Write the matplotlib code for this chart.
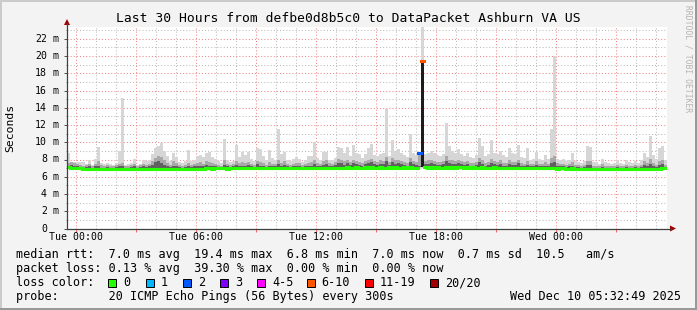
import numpy as np
import matplotlib
matplotlib.use("Agg")
import matplotlib.pyplot as plt
from matplotlib.patches import Rectangle, Polygon
from matplotlib.lines import Line2D
from matplotlib.transforms import blended_transform_factory

plt.rcParams['font.family'] = ['DejaVu Sans Mono']

# 200 samples of 9 min, hours relative to Tue 00:00
t_end = 29.547
t_start = t_end - 30
step = 0.15

# median rtt (ms) per sample
median = [
    7.1, 7.05, 7.0, 7.0, 7.0, 6.95, 6.95, 6.9, 6.9, 6.95, 6.9, 6.9, 6.85, 6.85, 6.9, 6.85, 6.85, 6.9, 6.85, 6.85,
    6.85, 6.85, 6.85, 6.9, 6.85, 6.85, 6.9, 6.85, 6.9, 6.9, 6.95, 6.95, 6.9, 6.9, 6.9, 6.85, 6.9, 6.9, 6.85, 6.9,
    6.9, 6.9, 6.95, 6.9, 6.95, 6.95, 7.0, 7.0, 6.95, 7.0, 7.0, 7.0, 7.0, 6.95, 7.0, 7.0, 7.0, 7.05, 7.0, 7.0,
    7.0, 7.0, 7.0, 7.05, 7.0, 7.0, 7.0, 7.05, 7.0, 7.0, 7.05, 7.05, 7.0, 7.0, 7.05, 7.05, 7.0, 7.05, 7.0, 7.0,
    7.05, 7.0, 7.05, 7.0, 7.0, 7.05, 7.05, 7.0, 7.05, 7.05, 7.0, 7.05, 7.05, 7.1, 7.05, 7.05, 7.1, 7.05, 7.05, 7.1,
    7.05, 7.1, 7.05, 7.05, 7.1, 7.05, 7.05, 7.1, 7.05, 7.1, 7.05, 7.05, 7.1, 7.05, 7.1, 7.05, 7.05, 8.8, 19.4, 7.1,
    7.05, 7.1, 7.05, 7.1, 7.05, 7.05, 7.1, 7.05, 7.1, 7.05, 7.1, 7.1, 7.05, 7.1, 7.05, 7.1, 7.05, 7.05, 7.1, 7.05,
    7.05, 7.05, 7.1, 7.05, 7.05, 7.05, 7.0, 7.05, 7.0, 7.05, 7.0, 7.0, 7.05, 7.0, 7.0, 7.0, 7.0, 7.05, 7.0, 7.0,
    7.0, 7.0, 7.0, 6.95, 7.0, 7.0, 6.95, 6.95, 7.0, 6.95, 6.95, 6.95, 6.9, 6.9, 6.95, 6.9, 6.9, 6.9, 6.85, 6.9,
    6.85, 6.85, 6.9, 6.85, 6.85, 6.85, 6.9, 6.85, 6.85, 6.9, 6.85, 6.9, 6.9, 6.9, 6.95, 6.9, 6.9, 6.95, 7.0, 7.0,
]

# loss bucket per sample (0 = no loss)
loss = [0] * 200
loss[117] = 2
loss[118] = 5

# samples whose fastest pings sit well below the median
spike_idx = [117, 118]
spike_low = [7.0, 7.0]

# smoke: highest ping (light), dense band (mid), core (dark)
smoke_top = [
    8.7, 7.7, 7.7, 7.7, 7.7, 7.7, 7.5, 7.9, 7.4, 8.1, 9.4, 7.6, 7.5, 7.6, 7.5, 7.4, 7.6, 9.0, 15.1, 7.4,
    7.5, 7.6, 8.0, 7.4, 7.5, 7.9, 7.8, 7.9, 8.6, 9.3, 9.6, 9.9, 9.0, 8.4, 7.8, 8.7, 8.3, 7.7, 7.6, 7.8,
    9.1, 7.8, 7.9, 8.4, 8.5, 8.3, 8.7, 8.9, 8.3, 8.1, 7.8, 7.6, 10.4, 8.0, 7.7, 7.8, 9.7, 8.3, 8.9, 8.5,
    8.9, 8.1, 7.8, 9.3, 9.2, 8.4, 7.9, 9.1, 8.2, 8.0, 11.5, 8.6, 8.9, 7.9, 7.8, 8.0, 8.3, 8.1, 7.7, 7.9,
    8.4, 8.4, 10.0, 8.2, 7.9, 8.9, 8.9, 8.0, 7.9, 8.2, 9.5, 9.3, 8.7, 9.4, 8.4, 9.7, 8.8, 8.6, 8.2, 8.6,
    9.3, 9.8, 8.5, 8.4, 8.6, 8.7, 13.8, 8.4, 10.3, 9.0, 9.2, 8.8, 8.5, 8.3, 11.0, 8.7, 8.5, 8.8, 25.0, 8.6,
    8.8, 9.0, 8.7, 8.5, 8.4, 8.6, 12.2, 9.6, 9.0, 8.8, 9.2, 8.6, 8.4, 8.7, 8.3, 8.2, 8.5, 10.5, 9.6, 8.4,
    8.6, 10.3, 8.8, 8.6, 9.0, 8.5, 8.3, 9.3, 8.7, 8.6, 9.7, 8.3, 8.2, 9.3, 8.0, 8.1, 8.9, 8.1, 8.0, 8.5,
    8.1, 11.5, 20.0, 8.1, 7.9, 8.1, 7.8, 8.0, 8.7, 7.8, 7.7, 7.6, 7.8, 9.6, 9.4, 7.7, 7.7, 7.5, 8.0, 7.7,
    7.6, 7.5, 7.6, 7.9, 7.6, 7.5, 7.9, 7.7, 7.6, 7.8, 7.6, 7.9, 8.8, 8.3, 10.7, 8.5, 8.1, 9.3, 9.6, 7.9,
]

smoke_mid = [
    7.6, 7.7, 7.6, 7.5, 7.4, 7.3, 7.4, 7.5, 7.3, 7.5, 7.8, 7.4, 7.3, 7.4, 7.3, 7.3, 7.4, 7.5, 7.6, 7.3,
    7.3, 7.4, 7.5, 7.3, 7.4, 7.5, 7.4, 7.5, 7.8, 8.2, 8.4, 8.3, 7.9, 7.6, 7.4, 7.8, 7.6, 7.4, 7.3, 7.4,
    7.6, 7.4, 7.5, 7.6, 7.7, 7.5, 7.8, 7.7, 7.6, 7.5, 7.4, 7.3, 7.9, 7.5, 7.4, 7.5, 7.8, 7.6, 7.7, 7.6,
    7.7, 7.5, 7.4, 7.8, 7.7, 7.6, 7.4, 7.7, 7.5, 7.5, 8.0, 7.6, 7.8, 7.5, 7.4, 7.5, 7.6, 7.6, 7.4, 7.5,
    7.6, 7.7, 8.0, 7.6, 7.5, 7.8, 7.9, 7.6, 7.5, 7.7, 8.1, 8.0, 7.8, 8.0, 7.7, 8.0, 7.8, 7.7, 7.6, 7.8,
    8.0, 8.1, 7.8, 7.7, 7.9, 7.8, 8.3, 7.7, 8.2, 7.9, 8.0, 7.8, 7.7, 7.6, 8.2, 7.8, 7.7, 8.8, 19.4, 7.8,
    7.9, 8.0, 7.8, 7.7, 7.7, 7.8, 8.4, 8.0, 7.9, 7.8, 8.0, 7.8, 7.7, 7.8, 7.6, 7.6, 7.7, 8.2, 7.9, 7.6,
    7.7, 8.1, 7.8, 7.7, 7.9, 7.6, 7.6, 7.9, 7.7, 7.7, 8.0, 7.6, 7.5, 7.8, 7.5, 7.5, 7.8, 7.5, 7.5, 7.7,
    7.5, 8.2, 8.4, 7.6, 7.5, 7.5, 7.4, 7.5, 7.7, 7.4, 7.4, 7.3, 7.4, 7.8, 7.8, 7.3, 7.3, 7.3, 7.5, 7.3,
    7.2, 7.2, 7.3, 7.4, 7.2, 7.2, 7.4, 7.3, 7.3, 7.4, 7.3, 7.4, 7.8, 7.6, 8.0, 7.6, 7.4, 7.8, 7.9, 7.4,
]

smoke_core = [
    7.3, 7.4, 7.3, 7.2, 7.1, 7.0, 7.1, 7.2, 7.0, 7.2, 7.3, 7.0, 7.0, 7.1, 7.0, 7.0, 7.1, 7.2, 7.2, 7.0,
    7.0, 7.1, 7.2, 7.0, 7.1, 7.2, 7.1, 7.2, 7.4, 7.7, 7.8, 7.6, 7.4, 7.2, 7.1, 7.3, 7.2, 7.1, 7.0, 7.1,
    7.3, 7.1, 7.2, 7.3, 7.3, 7.2, 7.4, 7.3, 7.3, 7.2, 7.1, 7.1, 7.4, 7.2, 7.1, 7.2, 7.4, 7.3, 7.3, 7.3,
    7.4, 7.2, 7.1, 7.5, 7.3, 7.3, 7.1, 7.3, 7.2, 7.2, 7.5, 7.3, 7.4, 7.2, 7.1, 7.2, 7.3, 7.3, 7.1, 7.2,
    7.3, 7.3, 7.5, 7.3, 7.2, 7.4, 7.5, 7.3, 7.2, 7.4, 7.6, 7.6, 7.4, 7.6, 7.4, 7.6, 7.5, 7.4, 7.3, 7.5,
    7.6, 7.7, 7.5, 7.4, 7.5, 7.5, 7.8, 7.4, 7.7, 7.5, 7.6, 7.5, 7.4, 7.3, 7.7, 7.5, 7.4, 7.3, 19.4, 7.5,
    7.5, 7.6, 7.5, 7.4, 7.4, 7.5, 7.8, 7.6, 7.5, 7.5, 7.6, 7.5, 7.4, 7.5, 7.3, 7.3, 7.4, 7.7, 7.5, 7.3,
    7.4, 7.6, 7.5, 7.4, 7.5, 7.3, 7.3, 7.5, 7.4, 7.4, 7.6, 7.3, 7.2, 7.4, 7.2, 7.2, 7.4, 7.2, 7.2, 7.3,
    7.2, 7.6, 7.7, 7.3, 7.2, 7.2, 7.1, 7.2, 7.3, 7.1, 7.1, 7.0, 7.1, 7.4, 7.4, 7.0, 7.0, 7.0, 7.1, 7.0,
    6.9, 6.9, 7.0, 7.1, 6.9, 6.9, 7.1, 7.0, 7.0, 7.1, 7.0, 7.1, 7.4, 7.2, 7.5, 7.2, 7.1, 7.4, 7.5, 7.1,
]

loss_labels = ['0', '1', '2', '3', '4-5', '6-10', '11-19', '20/20']
loss_colors = ['#26ff00', '#00b8ff', '#0059ff', '#7e00ff', '#ff00ff', '#ff5500', '#ff0000', '#a10000']

x_labels = ['Tue 00:00', 'Tue 06:00', 'Tue 12:00', 'Tue 18:00', 'Wed 00:00']
x_label_pos = [0, 6, 12, 18, 24]
y_ticks = [0, 2, 4, 6, 8, 10, 12, 14, 16, 18, 20, 22]

title = 'Last 30 Hours from defbe0d8b5c0 to DataPacket Ashburn VA US'
line_rtt = 'median rtt:  7.0 ms avg  19.4 ms max  6.8 ms min  7.0 ms now  0.7 ms sd  10.5   am/s'
line_loss = 'packet loss: 0.13 % avg  39.30 % max  0.00 % min  0.00 % now'
line_probe = 'probe:       20 ICMP Echo Pings (56 Bytes) every 300s'
stamp = 'Wed Dec 10 05:32:49 2025'

W, H = 697, 310


def px(x, y):
    return x / W, 1 - y / H


fig = plt.figure(figsize=(W / 100, H / 100), dpi=100, facecolor='#f3f3f3')

# frame shading
for (x0, y0, w, h, c) in [(0, 0, W, 2, '#cbcbcb'), (0, 0, 2, H, '#cbcbcb'),
                          (0, H - 2, W, 2, '#999999'), (W - 2, 0, 2, H, '#999999')]:
    fig.patches.append(Rectangle(px(x0, y0 + h), w / W, h / H, transform=fig.transFigure,
                                 facecolor=c, edgecolor='none'))

left, right, top, bottom = 67, 667, 27, 228.5
ax = fig.add_axes([left / W, 1 - bottom / H, (right - left) / W, (bottom - top) / H])
ax.set_facecolor('white')
ax.set_xlim(t_start, t_end)
ax.set_ylim(0, (bottom - top) / 8.625)
for s in ax.spines.values():
    s.set_visible(False)

ax.set_xticks(np.arange(0, 30, 3))
ax.set_xticks(np.arange(0, 30, 1), minor=True)
ax.set_yticks(np.arange(0, 24, 2))
ax.set_yticks(np.arange(1, 24, 2), minor=True)
ax.tick_params(which='both', labelbottom=False, labelleft=False)
ax.tick_params(axis='x', which='major', length=2, color='#ff6060', width=0.7)
ax.tick_params(axis='x', which='minor', length=0)
ax.tick_params(axis='y', which='major', length=2, color='#505050', width=0.7)
ax.tick_params(axis='y', which='minor', length=1, color='#909090', width=0.7)
ax.grid(which='minor', color='#bcbcbc', linestyle=(0, (1, 2)), linewidth=0.75)
ax.grid(which='major', color='#ee8888', linestyle=(0, (1, 2)), linewidth=0.75)
ax.set_axisbelow(True)

t = t_start + step * np.arange(len(median))
med = np.array(median)
lo = med - 0.15
for i, v in zip(spike_idx, spike_low):
    lo[i] = v
ax.bar(t, np.array(smoke_top) - lo, bottom=lo, width=step, align='edge',
       color='#d6d6d6', linewidth=0, zorder=2)
mid_h = np.clip(np.array(smoke_mid) - lo - 0.15, 0, None)
ax.bar(t, mid_h, bottom=lo + 0.15, width=step, align='edge',
       color='#a8a8a8', linewidth=0, zorder=3)
core_h = np.clip(np.array(smoke_core) - lo - 0.15, 0, None)
core_c = ['#1c1c1c' if h > 2 else '#606060' for h in core_h]
ax.bar(t, core_h, bottom=lo + 0.15, width=step, align='edge',
       color=core_c, linewidth=0, zorder=4)

ax.hlines(med, t, t + step, colors=[loss_colors[l] for l in loss],
          linewidth=2.2, zorder=5, capstyle='projecting')

# axes lines and arrows
ax_col = '#404040'
fig.add_artist(Line2D([px(left, 0)[0], px(671, 0)[0]], [px(0, bottom)[1]] * 2,
                      color=ax_col, linewidth=0.9, transform=fig.transFigure))
fig.add_artist(Line2D([px(left, 0)[0]] * 2, [px(0, bottom)[1], px(0, 23)[1]],
                      color=ax_col, linewidth=0.9, transform=fig.transFigure))
arrow_c = '#a00000'
fig.add_artist(Polygon([px(670, bottom - 3), px(676, bottom), px(670, bottom + 3)], closed=True,
                       transform=fig.transFigure, facecolor=arrow_c, edgecolor='none'))
fig.add_artist(Polygon([px(left - 3, 25), px(left, 19), px(left + 3, 25)], closed=True,
                       transform=fig.transFigure, facecolor=arrow_c, edgecolor='none'))

# tick labels
ytr = blended_transform_factory(fig.transFigure, ax.transData)
for v in y_ticks:
    fig.text(px(47, 0)[0], v, str(v), transform=ytr, ha='right', va='center', fontsize=7.1)
    if v:
        fig.text(px(53, 0)[0], v, 'm', transform=ytr, ha='left', va='center', fontsize=7.1)
xtr = blended_transform_factory(ax.transData, fig.transFigure)
for pos, lab in zip(x_label_pos, x_labels):
    fig.text(pos, px(0, 237.5)[1], lab, transform=xtr, ha='center', va='center', fontsize=7.1)

fig.text(*px(348, 19), title, ha='center', va='center', fontsize=9.4)
fig.text(*px(10, 128), 'Seconds', ha='center', va='center', rotation=90, fontsize=8.2)
fig.text(*px(688, 59), 'RRDTOOL / TOBI OETIKER', ha='center', va='center', rotation=270,
         fontsize=5.8, color='#b4b4b4')

fs = 8.45
fig.text(*px(16, 254.5), line_rtt, ha='left', va='center', fontsize=fs)
fig.text(*px(16, 268.5), line_loss, ha='left', va='center', fontsize=fs)
fig.text(*px(16, 282.5), 'loss color:', ha='left', va='center', fontsize=fs)
fig.text(*px(16, 296.5), line_probe, ha='left', va='center', fontsize=fs)
fig.text(*px(680.5, 296.5), stamp, ha='right', va='center', fontsize=fs)

box_x = [108, 145.5, 183, 220, 257, 306.5, 365, 430]
for bx, lab, c in zip(box_x, loss_labels, loss_colors):
    fig.patches.append(Rectangle(px(bx, 286.5), 8 / W, 8 / H, transform=fig.transFigure,
                                 facecolor=c, edgecolor='black', linewidth=0.7))
    fig.text(*px(bx + 15, 282.5), lab, ha='left', va='center', fontsize=fs)

fig.savefig('out.png', dpi=100, facecolor=fig.get_facecolor())
